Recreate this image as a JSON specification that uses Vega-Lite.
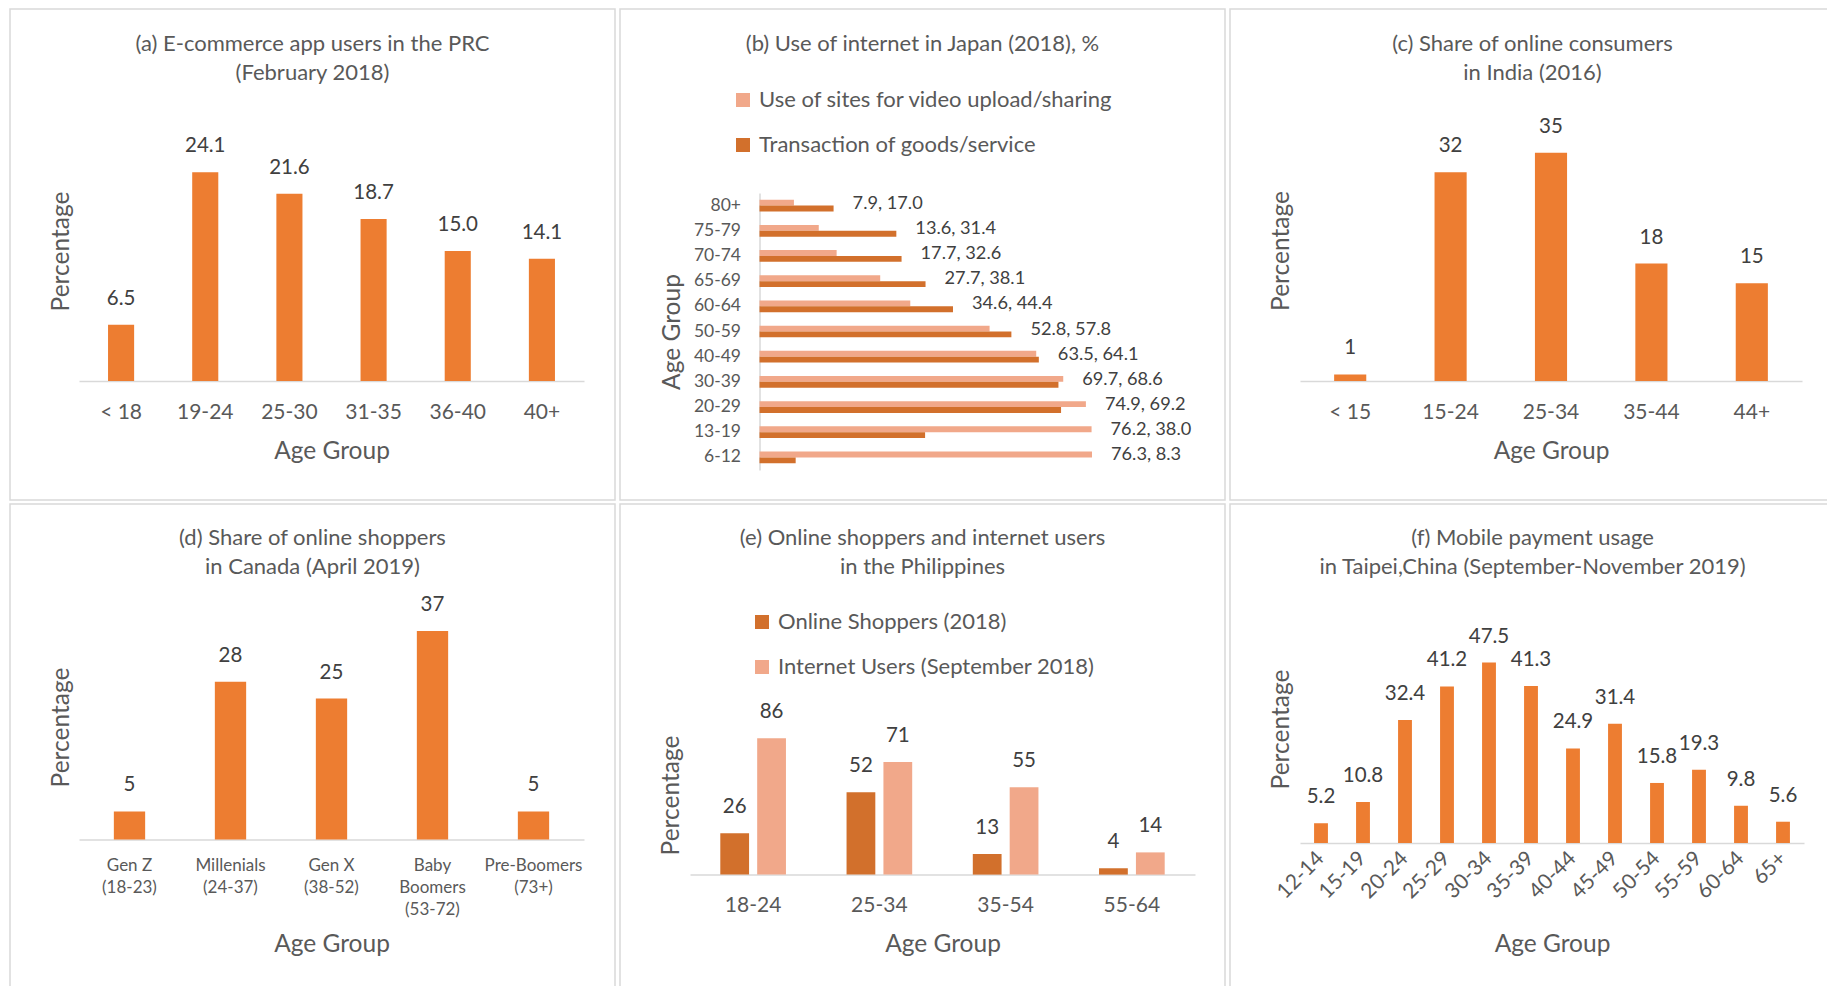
{
  "$schema": "https://vega.github.io/schema/vega-lite/v6.json",
  "background": "white",
  "padding": {"left": 9, "top": 8, "right": 0, "bottom": 0},
  "spacing": 2,
  "resolve": {"scale": {"color": "independent"}, "legend": {"color": "independent"}},
  "config": {
    "font": "Lato",
    "view": {"stroke": "#d9d9d9", "strokeWidth": 1.5},
    "axis": {"domainColor": "#d9d9d9", "domainWidth": 1.5, "ticks": false, "tickSize": 0, "grid": false, "labelFont": "Lato", "labelFontSize": 21, "labelColor": "#595959", "titleFont": "Lato", "titleFontSize": 24.5, "titleFontWeight": "normal", "titleColor": "#595959", "labelAngle": 0},
    "title": {"font": "Lato", "fontSize": 22, "fontWeight": "normal", "color": "#595959", "lineHeight": 29.5, "anchor": "middle", "baseline": "top"},
    "legend": {"labelFont": "Lato", "labelColor": "#595959", "labelFontSize": 22, "symbolStrokeWidth": 0, "padding": 0, "symbolOpacity": 1, "labelOffset": 5, "symbolType": "square", "symbolSize": 196, "rowPadding": 23, "labelLimit": 600}
  },
  "vconcat": [
    {
      "spacing": 3,
      "resolve": {"scale": {"color": "independent"}, "legend": {"color": "independent"}},
      "hconcat": [
        {
          "width": 605, "height": 491,
          "title": {"text": ["(a) E-commerce app users in the PRC", "(February 2018)"], "offset": -76},
          "data": {"values": [
            {"age": "< 18", "value": 6.5},
            {"age": "19-24", "value": 24.1},
            {"age": "25-30", "value": 21.6},
            {"age": "31-35", "value": 18.7},
            {"age": "36-40", "value": 15.0},
            {"age": "40+", "value": 14.1}
          ]},
          "encoding": {
            "x": {"field": "age", "type": "nominal", "sort": null,
              "scale": {"range": [69, 574], "paddingInner": 0.69, "paddingOuter": 0.345},
              "axis": {"title": "Age Group", "orient": "bottom", "offset": -119, "labelPadding": 31, "labelBaseline": "middle", "titleY": 70, "titleBaseline": "middle"}},
            "y": {"field": "value", "type": "quantitative",
              "scale": {"domain": [0, 30], "range": [372, 112]},
              "axis": {"title": "Percentage", "labels": false, "domain": false, "titleX": 51.5, "titleY": 242, "titleBaseline": "middle"}}
          },
          "layer": [
            {"mark": {"type": "bar", "color": "#ED7D31"}},
            {"mark": {"type": "text", "dy": -20, "baseline": "alphabetic", "fontSize": 20.5, "color": "#404040"},
              "encoding": {"text": {"field": "value", "type": "quantitative", "format": ".1f"}}}
          ]
        },
        {
          "width": 605, "height": 491,
          "title": {"text": "(b) Use of internet in Japan (2018), %", "offset": -46.5},
          "data": {"values": [
            {"age": "80+", "video": 7.9, "trans": 17.0},
            {"age": "75-79", "video": 13.6, "trans": 31.4},
            {"age": "70-74", "video": 17.7, "trans": 32.6},
            {"age": "65-69", "video": 27.7, "trans": 38.1},
            {"age": "60-64", "video": 34.6, "trans": 44.4},
            {"age": "50-59", "video": 52.8, "trans": 57.8},
            {"age": "40-49", "video": 63.5, "trans": 64.1},
            {"age": "30-39", "video": 69.7, "trans": 68.6},
            {"age": "20-29", "video": 74.9, "trans": 69.2},
            {"age": "13-19", "video": 76.2, "trans": 38.0},
            {"age": "6-12", "video": 76.3, "trans": 8.3}
          ]},
          "encoding": {
            "y": {"field": "age", "type": "nominal", "sort": null,
              "scale": {"range": [184, 461], "paddingInner": 0.535, "paddingOuter": 0.2675},
              "axis": {"title": "Age Group", "orient": "left", "offset": -139.5, "labelPadding": 19, "labelFontSize": 17.5, "labelBaseline": "middle", "labelAlign": "right", "titleX": -87.5, "titleY": 322.5, "titleBaseline": "middle"}}
          },
          "layer": [
            {
              "transform": [{"fold": ["video", "trans"], "as": ["series", "value"]}],
              "mark": {"type": "bar"},
              "encoding": {
                "yOffset": {"field": "series", "type": "nominal", "sort": null, "scale": {"paddingInner": 0, "paddingOuter": 0}},
                "x": {"field": "value", "type": "quantitative", "scale": {"domain": [0, 90], "range": [139.5, 531.7]}, "axis": null},
                "color": {"field": "series", "type": "nominal",
                  "scale": {"domain": ["video", "trans"], "range": ["#F1A88A", "#D2702C"]},
                  "legend": {"title": null, "orient": "none", "legendX": 112, "legendY": 80,
                    "labelExpr": "datum.label == 'video' ? 'Use of sites for video upload/sharing' : 'Transaction of goods/service'"}}
              }
            },
            {
              "transform": [
                {"calculate": "format(datum.video, '.1f') + ', ' + format(datum.trans, '.1f')", "as": "label"},
                {"calculate": "max(datum.video, datum.trans)", "as": "pos"}
              ],
              "mark": {"type": "text", "align": "left", "baseline": "middle", "dx": 19, "dy": -2, "fontSize": 18.2, "color": "#404040"},
              "encoding": {
                "x": {"field": "pos", "type": "quantitative", "scale": {"domain": [0, 90], "range": [139.5, 531.7]}, "axis": null},
                "text": {"field": "label", "type": "nominal"}
              }
            }
          ]
        },
        {
          "width": 605, "height": 491,
          "title": {"text": ["(c) Share of online consumers", "in India (2016)"], "offset": -76},
          "data": {"values": [
            {"age": "< 15", "value": 1},
            {"age": "15-24", "value": 32},
            {"age": "25-34", "value": 35},
            {"age": "35-44", "value": 18},
            {"age": "44+", "value": 15}
          ]},
          "encoding": {
            "x": {"field": "age", "type": "nominal", "sort": null,
              "scale": {"range": [70, 572], "paddingInner": 0.68, "paddingOuter": 0.34},
              "axis": {"title": "Age Group", "orient": "bottom", "offset": -119, "labelPadding": 31, "labelBaseline": "middle", "titleY": 70, "titleBaseline": "middle"}},
            "y": {"field": "value", "type": "quantitative",
              "scale": {"domain": [0, 40], "range": [372, 111]},
              "axis": {"title": "Percentage", "labels": false, "domain": false, "titleX": 51, "titleY": 241.5, "titleBaseline": "middle"}}
          },
          "layer": [
            {"mark": {"type": "bar", "color": "#ED7D31"}},
            {"mark": {"type": "text", "dy": -20, "baseline": "alphabetic", "fontSize": 20.5, "color": "#404040"},
              "encoding": {"text": {"field": "value", "type": "quantitative"}}}
          ]
        }
      ]
    },
    {
      "spacing": 3,
      "resolve": {"scale": {"color": "independent"}, "legend": {"color": "independent"}},
      "hconcat": [
        {
          "width": 605, "height": 491,
          "title": {"text": ["(d) Share of online shoppers", "in Canada (April 2019)"], "offset": -75},
          "data": {"values": [
            {"age": "Gen Z|(18-23)", "value": 5},
            {"age": "Millenials|(24-37)", "value": 28},
            {"age": "Gen X|(38-52)", "value": 25},
            {"age": "Baby|Boomers|(53-72)", "value": 37},
            {"age": "Pre-Boomers|(73+)", "value": 5}
          ]},
          "encoding": {
            "x": {"field": "age", "type": "nominal", "sort": null,
              "scale": {"range": [69, 574], "paddingInner": 0.69, "paddingOuter": 0.345},
              "axis": {"title": "Age Group", "orient": "bottom", "offset": -155.4, "labelExpr": "split(datum.label, '|')", "labelFontSize": 17, "labelLineHeight": 22, "labelPadding": 17.5, "labelBaseline": "top", "titleY": 105, "titleBaseline": "middle"}},
            "y": {"field": "value", "type": "quantitative",
              "scale": {"domain": [0, 40], "range": [335.6, 110]},
              "axis": {"title": "Percentage", "labels": false, "domain": false, "titleX": 51.5, "titleY": 223, "titleBaseline": "middle"}}
          },
          "layer": [
            {"mark": {"type": "bar", "color": "#ED7D31"}},
            {"mark": {"type": "text", "dy": -20, "baseline": "alphabetic", "fontSize": 20.5, "color": "#404040"},
              "encoding": {"text": {"field": "value", "type": "quantitative"}}}
          ]
        },
        {
          "width": 605, "height": 491,
          "title": {"text": ["(e) Online shoppers and internet users", "in the Philippines"], "offset": -75},
          "data": {"values": [
            {"age": "18-24", "series": "Online Shoppers (2018)", "value": 26},
            {"age": "18-24", "series": "Internet Users (September 2018)", "value": 86},
            {"age": "25-34", "series": "Online Shoppers (2018)", "value": 52},
            {"age": "25-34", "series": "Internet Users (September 2018)", "value": 71},
            {"age": "35-54", "series": "Online Shoppers (2018)", "value": 13},
            {"age": "35-54", "series": "Internet Users (September 2018)", "value": 55},
            {"age": "55-64", "series": "Online Shoppers (2018)", "value": 4},
            {"age": "55-64", "series": "Internet Users (September 2018)", "value": 14}
          ]},
          "encoding": {
            "x": {"field": "age", "type": "nominal", "sort": null,
              "scale": {"range": [70, 575], "paddingInner": 0.48, "paddingOuter": 0.24},
              "axis": {"title": "Age Group", "orient": "bottom", "offset": -120.4, "labelPadding": 31, "labelBaseline": "middle", "titleY": 70, "titleBaseline": "middle"}},
            "xOffset": {"field": "series", "type": "nominal", "sort": null, "scale": {"paddingInner": 0.22, "paddingOuter": 0}},
            "y": {"field": "value", "type": "quantitative",
              "scale": {"domain": [0, 100], "range": [370.6, 212]},
              "axis": {"title": "Percentage", "labels": false, "domain": false, "titleX": 51.8, "titleY": 291, "titleBaseline": "middle"}}
          },
          "layer": [
            {"mark": {"type": "bar"},
              "encoding": {"color": {"field": "series", "type": "nominal",
                "scale": {"domain": ["Online Shoppers (2018)", "Internet Users (September 2018)"], "range": ["#D2702C", "#F1A88A"]},
                "legend": {"title": null, "orient": "none", "legendX": 131, "legendY": 107}}}},
            {"mark": {"type": "text", "dy": -20, "baseline": "alphabetic", "fontSize": 20.5, "color": "#404040"},
              "encoding": {"text": {"field": "value", "type": "quantitative"}}}
          ]
        },
        {
          "width": 605, "height": 491,
          "title": {"text": ["(f) Mobile payment usage", "in Taipei,China (September-November 2019)"], "offset": -75},
          "data": {"values": [
            {"age": "12-14", "value": 5.2},
            {"age": "15-19", "value": 10.8},
            {"age": "20-24", "value": 32.4},
            {"age": "25-29", "value": 41.2},
            {"age": "30-34", "value": 47.5},
            {"age": "35-39", "value": 41.3},
            {"age": "40-44", "value": 24.9},
            {"age": "45-49", "value": 31.4},
            {"age": "50-54", "value": 15.8},
            {"age": "55-59", "value": 19.3},
            {"age": "60-64", "value": 9.8},
            {"age": "65+", "value": 5.6}
          ]},
          "encoding": {
            "x": {"field": "age", "type": "nominal", "sort": null,
              "scale": {"range": [70, 574], "paddingInner": 0.67, "paddingOuter": 0.335},
              "axis": {"title": "Age Group", "orient": "bottom", "offset": -152, "labelAngle": -45, "labelAlign": "right", "labelBaseline": "middle", "labelPadding": 12, "labelFontSize": 21, "titleY": 101.5, "titleBaseline": "middle"}},
            "y": {"field": "value", "type": "quantitative",
              "scale": {"domain": [0, 60], "range": [339, 111]},
              "axis": {"title": "Percentage", "labels": false, "domain": false, "titleX": 51, "titleY": 225, "titleBaseline": "middle"}}
          },
          "layer": [
            {"mark": {"type": "bar", "color": "#ED7D31"}},
            {"mark": {"type": "text", "dy": -20, "baseline": "alphabetic", "fontSize": 20.5, "color": "#404040"},
              "encoding": {"text": {"field": "value", "type": "quantitative", "format": ".1f"}}}
          ]
        }
      ]
    }
  ]
}
